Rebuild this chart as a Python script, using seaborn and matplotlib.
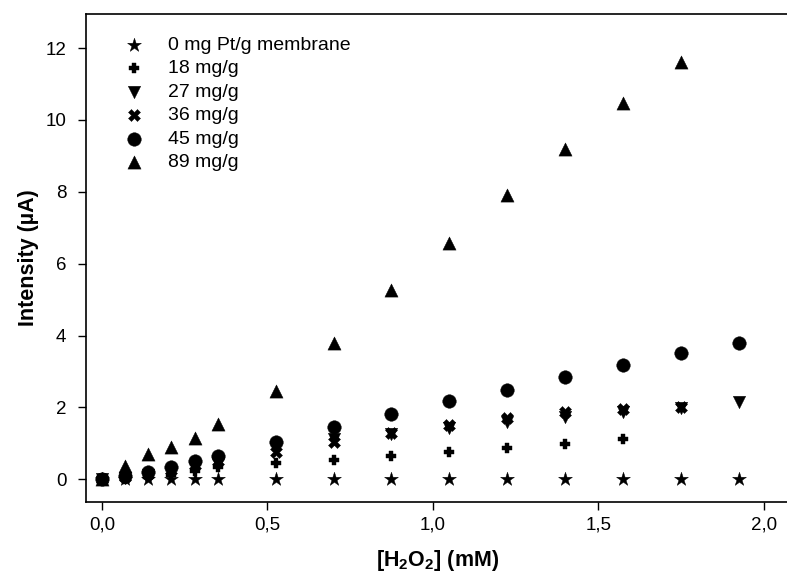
import matplotlib
matplotlib.use("Agg")
import matplotlib.pyplot as plt
import matplotlib.ticker as mticker
import seaborn as sns
import pandas as pd

# concentracao de H2O2 (mM)
h2o2 = [0, 0.07, 0.14, 0.21, 0.28, 0.35, 0.525, 0.70, 0.875, 1.05, 1.225, 1.40, 1.575, 1.75, 1.925]

# intensidade (uA) por carga de Pt
pt0 = [0, 0, 0, 0, 0, 0, 0, 0, 0, 0, 0, 0, 0, 0, 0]
pt18 = [0, 0.02, 0.06, 0.13, 0.22, 0.33, 0.44, 0.55, 0.66, 0.76, 0.88, 0.99, 1.13]
pt27 = [0, 0.04, 0.11, 0.20, 0.30, 0.42, 0.86, 1.13, 1.27, 1.44, 1.60, 1.72, 1.86, 1.98, 2.15]
pt36 = [0, 0.06, 0.15, 0.26, 0.40, 0.52, 0.77, 1.05, 1.30, 1.50, 1.70, 1.87, 1.95, 2.01]
pt45 = [0, 0.09, 0.21, 0.35, 0.50, 0.65, 1.03, 1.46, 1.82, 2.19, 2.48, 2.84, 3.17, 3.50, 3.78]
pt89 = [0, 0.37, 0.70, 0.89, 1.15, 1.53, 2.45, 3.78, 5.27, 6.58, 7.91, 9.19, 10.46, 11.62]

rotulos = ["0 mg Pt/g membrane", "18 mg/g", "27 mg/g", "36 mg/g", "45 mg/g", "89 mg/g"]
series = [pt0, pt18, pt27, pt36, pt45, pt89]
marcadores = ["*", "P", "v", "X", "o", "^"]
tamanhos = [110, 45, 80, 75, 95, 90]

sns.set_style("ticks")
plt.rcParams["font.family"] = ["Liberation Sans", "DejaVu Sans"]
plt.rcParams["mathtext.fontset"] = "custom"
plt.rcParams["mathtext.bf"] = "Liberation Sans:bold"
plt.rcParams["mathtext.rm"] = "Liberation Sans"
plt.rcParams["text.color"] = "black"
plt.rcParams["axes.labelcolor"] = "black"

fig = plt.figure(figsize=(7.87, 5.78), dpi=100)
ax = fig.add_axes([0.109, 0.131, 0.895, 0.845])

for rotulo, valores, m, s in zip(rotulos, series, marcadores, tamanhos):
    df = pd.DataFrame({"x": h2o2[:len(valores)], "y": valores})
    sns.scatterplot(data=df, x="x", y="y", marker=m, s=s, color="black",
                    edgecolor="black", linewidth=0.3, label=rotulo, ax=ax)

ax.set_xlim(-0.049, 2.08)
ax.set_ylim(-0.64, 12.95)
ax.set_xticks([0, 0.5, 1.0, 1.5, 2.0])
ax.set_yticks([0, 2, 4, 6, 8, 10, 12])
ax.xaxis.set_major_formatter(mticker.FuncFormatter(lambda v, p: f"{v:.1f}".replace(".", ",")))
ax.tick_params(axis="both", labelsize=13.5, length=6, width=1, direction="out",
               colors="black", labelcolor="black")
ax.tick_params(axis="x", pad=4)
ax.tick_params(axis="y", pad=8)
for lado in ["left", "bottom", "top"]:
    ax.spines[lado].set_linewidth(1.2)
    ax.spines[lado].set_color("black")
ax.spines["right"].set_visible(False)

ax.set_xlabel(r"[H$_\mathbf{2}$O$_\mathbf{2}$] (mM)", fontsize=15.5, fontweight="bold", labelpad=11)
ax.set_ylabel("Intensity (\u00b5A)", fontsize=15.5, fontweight="bold", labelpad=5)

leg = ax.legend(loc="upper left", bbox_to_anchor=(0.022, 0.982), frameon=False,
                fontsize=14, labelspacing=0.3, handletextpad=0.75, borderpad=0.2)
for t in leg.get_texts():
    t.set_color("black")

fig.savefig("out.png", dpi=100)
